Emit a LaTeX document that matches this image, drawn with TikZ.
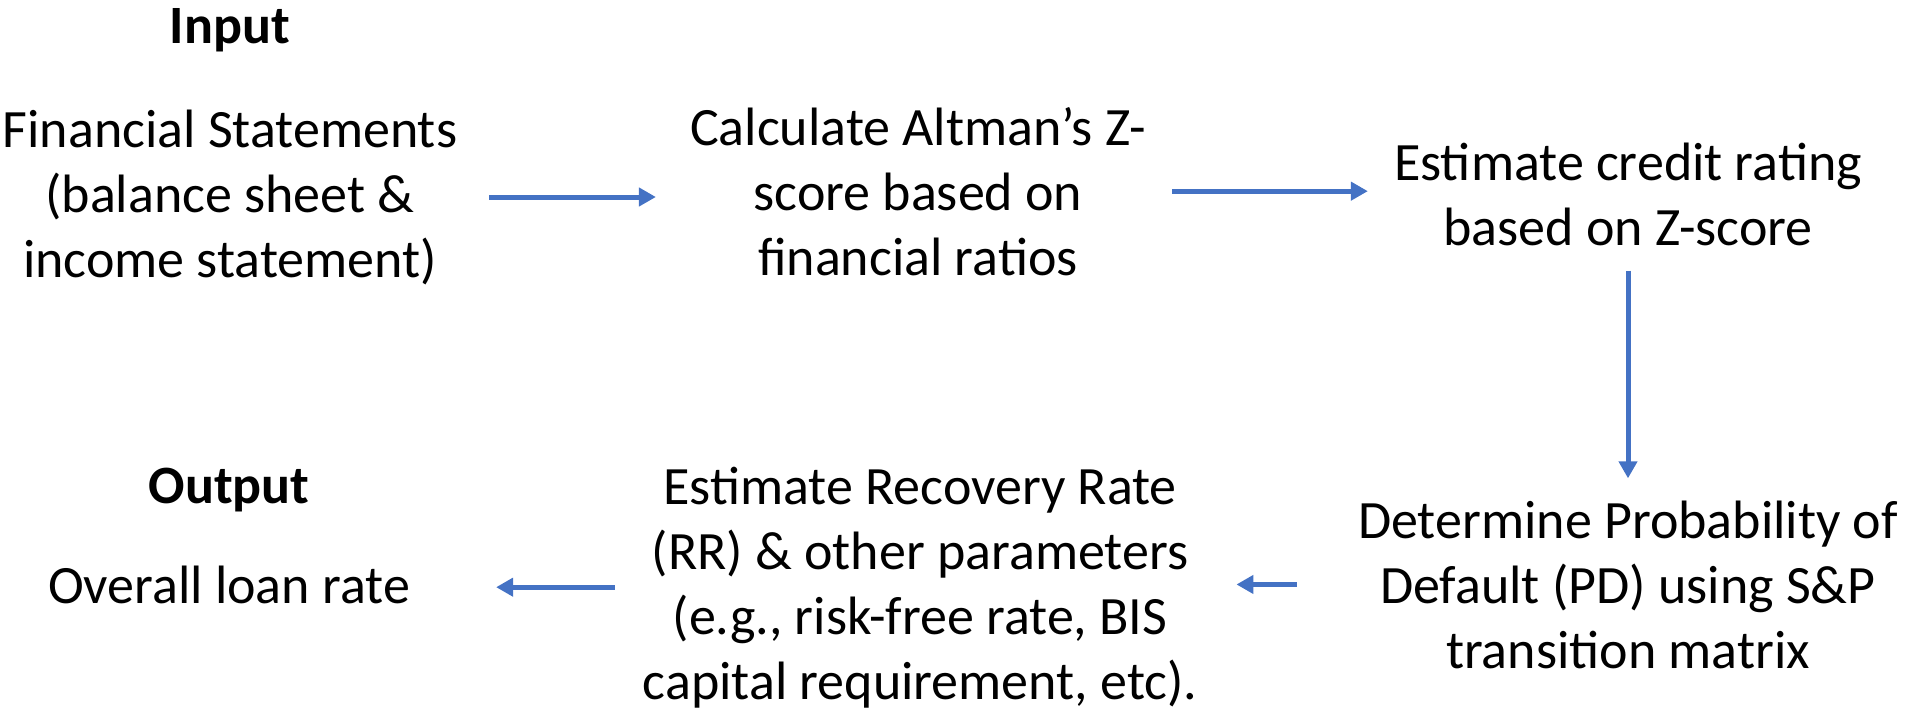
\documentclass[tikz,border=0pt]{standalone}
\usepackage{fontspec}
\setmainfont{Carlito}
\usetikzlibrary{arrows.meta}
\definecolor{arrblue}{HTML}{4472C4}
\begin{document}
\begin{tikzpicture}[x=1pt,y=-1pt,
  txt/.style={font=\fontsize{54}{65}\selectfont, align=center, inner sep=0pt, anchor=base},
  ttl/.style={font=\fontsize{54}{65}\selectfont\bfseries, align=center, inner sep=0pt, anchor=base},
  arr/.style={draw=arrblue, line width=5pt, -{Triangle[length=17pt,width=18pt]}}]
\useasboundingbox (0,0) rectangle (1906,716);
\node[ttl] (input) at (230,43) {Input};
\node[txt] (fin) at (230,277) {Financial Statements\\(balance sheet \&\\income statement)};
\node[txt] (alt) at (918,275) {Calculate Altman’s Z-\\score based on\\financial ratios};
\node[txt] (est) at (1628,245) {Estimate credit rating\\based on Z-score};
\node[txt] (pd) at (1628,668) {Determine Probability of\\Default (PD) using S\&P\\transition matrix};
\node[txt] (rr) at (920,699) {Estimate Recovery Rate\\(RR) \& other parameters\\(e.g., risk-free rate, BIS\\capital requirement, etc).};
\node[ttl] (output) at (229,503) {Output};
\node[txt] (loan) at (229,603) {Overall loan rate};
\draw[arr, shorten <=32pt, shorten >=34pt] (fin.east) -- (fin.east -| alt.west);
\draw[arr, shorten <=26pt, shorten >=26pt] (alt.east) -- (alt.east -| est.west);
\draw[arr, shorten <=25pt, shorten >=22pt] (est.south) -- (pd.north);
\draw[arr, shorten <=61pt, shorten >=39pt] (pd.west) -- (pd.west -| rr.east);
\draw[arr, shorten <=28pt, shorten >=86pt] (rr.west) -- (rr.west -| loan.east);
\end{tikzpicture}
\end{document}
